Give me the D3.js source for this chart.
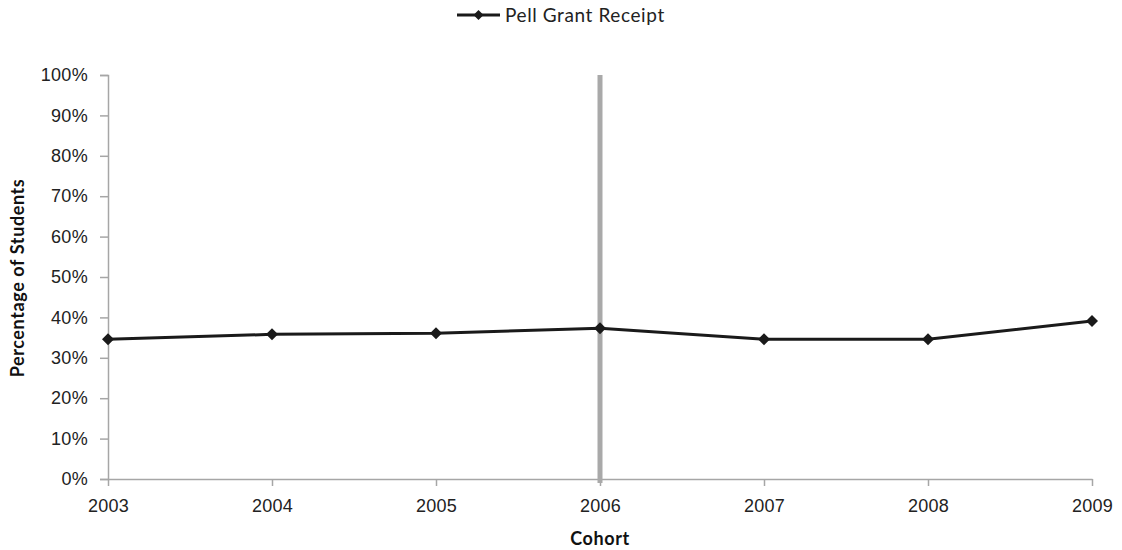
<html>
<head>
<style>
  body{ margin:0; background:#fff; font-family: Lato, "Open Sans", sans-serif; }
</style>
</head>
<body>
<script src="https://d3js.org/d3.v7.min.js"></script>
<div id="graph_item"></div>
<script>
// chart data
var cohorts = ["2003", "2004", "2005", "2006", "2007", "2008", "2009"];
var pellValues = [0.346, 0.358, 0.361, 0.373, 0.346, 0.346, 0.391];
var yTicks = [0, 0.1, 0.2, 0.3, 0.4, 0.5, 0.6, 0.7, 0.8, 0.9, 1.0];
var markerCohort = "2006";
var seriesName = "Pell Grant Receipt";

var W = 1122, H = 550;
var margin = {top: 75, right: 30, bottom: 71, left: 108};

var svg = d3.select("#graph_item").append("svg")
    .attr("width", W).attr("height", H);

var x = d3.scalePoint().domain(cohorts).range([margin.left, 1092]);
var y = d3.scaleLinear().domain([0, 1]).range([479, 75]);

var axisColor = "#a6a6a6";

// y axis
svg.append("g")
  .attr("transform", "translate(" + margin.left + ",0)")
  .call(d3.axisLeft(y).tickValues(yTicks).tickFormat(d3.format(".0%")).tickSize(8).tickPadding(12))
  .call(g => g.selectAll("path,line").attr("stroke", axisColor).attr("stroke-width", 1.5))
  .call(g => g.selectAll("text").attr("fill", "#222").style("font-size", "18px").style("letter-spacing", "0.3px"));

// x axis
svg.append("g")
  .attr("transform", "translate(0,479)")
  .call(d3.axisBottom(x).tickSize(7).tickPadding(13).tickSizeOuter(0))
  .call(g => g.selectAll("path,line").attr("stroke", axisColor).attr("stroke-width", 1.5))
  .call(g => g.selectAll("text").attr("fill", "#222").style("font-size", "18px").style("letter-spacing", "0.3px"));

// vertical reference line
svg.append("line")
  .attr("x1", x(markerCohort)).attr("x2", x(markerCohort))
  .attr("y1", y(1)).attr("y2", y(0) + 4)
  .attr("stroke", "#a9a9a9").attr("stroke-width", 5);

// series line
var pts = cohorts.map((c, i) => [c, pellValues[i]]);
svg.append("path")
  .datum(pts)
  .attr("fill", "none")
  .attr("stroke", "#1a1a1a")
  .attr("stroke-width", 3)
  .attr("d", d3.line().x(d => x(d[0])).y(d => y(d[1])));

// square marker rotated 45deg, like the spreadsheet diamond
var diamond = d3.symbol().type(d3.symbolSquare).size(72);
svg.selectAll(".pt")
  .data(pts)
  .join("path")
    .attr("class", "pt")
    .attr("transform", d => "translate(" + x(d[0]) + "," + y(d[1]) + ") rotate(45)")
    .attr("d", diamond)
    .attr("fill", "#1a1a1a");

// legend
var leg = svg.append("g").attr("transform", "translate(457,15)");
leg.append("line").attr("x1", 0).attr("x2", 43).attr("y1", 0).attr("y2", 0)
  .attr("stroke", "#1a1a1a").attr("stroke-width", 3);
leg.append("path").attr("transform", "translate(21.5,0) rotate(45)")
  .attr("d", d3.symbol().type(d3.symbolSquare).size(50)).attr("fill", "#1a1a1a");
leg.append("text").attr("x", 48).attr("y", 7)
  .style("font-size", "19px").style("letter-spacing", "0.6px").attr("fill", "#222").text(seriesName);

// axis titles
svg.append("text")
  .attr("transform", "translate(24,278) rotate(-90)")
  .attr("text-anchor", "middle")
  .style("font-size", "18px").style("font-weight", 700).style("letter-spacing", "0.6px").attr("fill", "#111")
  .text("Percentage of Students");

svg.append("text")
  .attr("x", x(markerCohort)).attr("y", 545)
  .attr("text-anchor", "middle")
  .style("font-size", "18px").style("font-weight", 700).style("letter-spacing", "0.6px").attr("fill", "#111")
  .text("Cohort");
</script>
</body>
</html>
